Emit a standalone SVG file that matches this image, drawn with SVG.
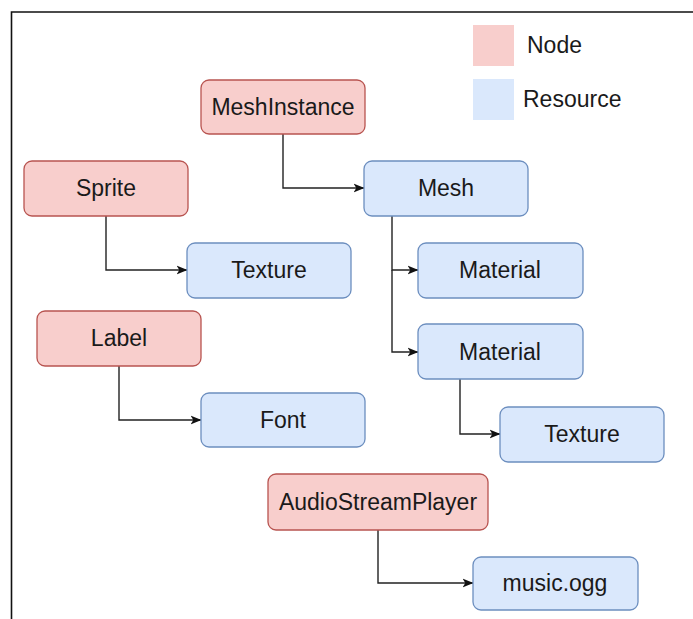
<svg xmlns="http://www.w3.org/2000/svg" width="693" height="619" viewBox="0 0 693 619">
  <style>
    .node rect { fill: #f8cecc; stroke: #b85450; stroke-width: 1.3; }
    .res rect { fill: #dae8fc; stroke: #6c8ebf; stroke-width: 1.3; }
    text { font-family: "Liberation Sans", Arial, sans-serif; font-size: 23px; fill: #1a1a1a; }
    .c { text-anchor: middle; }
    .edge { fill: none; stroke: #222; stroke-width: 1.4; }
  </style>
  <defs>
    <marker id="arrow" viewBox="0 0 11 10" refX="10.5" refY="5" markerWidth="11" markerHeight="10" markerUnits="userSpaceOnUse" orient="auto">
      <path d="M0,0.5 L11,5 L0,9.5 L2.8,5 Z" fill="#111"/>
    </marker>
  </defs>
  <rect width="693" height="619" fill="#fff"/>
  <!-- frame -->
  <path d="M11.5,619 V12 H693" fill="none" stroke="#111" stroke-width="1.6"/>

  <!-- legend -->
  <g id="legend">
    <rect x="473" y="25" width="41" height="41" fill="#f8cecc"/>
    <text x="527" y="53">Node</text>
    <rect x="473" y="79" width="41" height="41" fill="#dae8fc"/>
    <text x="523" y="107">Resource</text>
  </g>

  <!-- connectors -->
  <g id="connectors">
    <path class="edge" marker-end="url(#arrow)" d="M283,134 V188 H364"/>
    <path class="edge" marker-end="url(#arrow)" d="M106,216 V270 H187"/>
    <path class="edge" marker-end="url(#arrow)" d="M392,216 V270 H418"/>
    <path class="edge" marker-end="url(#arrow)" d="M392,270 V352 H418"/>
    <path class="edge" marker-end="url(#arrow)" d="M460,379 V434 H500"/>
    <path class="edge" marker-end="url(#arrow)" d="M119,366 V420 H201"/>
    <path class="edge" marker-end="url(#arrow)" d="M378,530 V583 H473"/>
  </g>

  <g id="meshinstance" class="node">
    <rect x="201" y="80" width="164" height="54" rx="8"/>
    <text class="c" x="283" y="115">MeshInstance</text>
  </g>
  <g id="sprite" class="node">
    <rect x="24" y="161" width="164" height="55" rx="8"/>
    <text class="c" x="106" y="196">Sprite</text>
  </g>
  <g id="label" class="node">
    <rect x="37" y="311" width="164" height="55" rx="8"/>
    <text class="c" x="119" y="346">Label</text>
  </g>
  <g id="audiostreamplayer" class="node">
    <rect x="268" y="474" width="220" height="56" rx="8"/>
    <text class="c" x="378" y="510">AudioStreamPlayer</text>
  </g>

  <g id="mesh" class="res">
    <rect x="364" y="161" width="164" height="55" rx="8"/>
    <text class="c" x="446" y="196">Mesh</text>
  </g>
  <g id="texture1" class="res">
    <rect x="187" y="243" width="164" height="55" rx="8"/>
    <text class="c" x="269" y="278">Texture</text>
  </g>
  <g id="material1" class="res">
    <rect x="418" y="243" width="165" height="55" rx="8"/>
    <text class="c" x="500" y="278">Material</text>
  </g>
  <g id="material2" class="res">
    <rect x="418" y="324" width="165" height="55" rx="8"/>
    <text class="c" x="500" y="360">Material</text>
  </g>
  <g id="font" class="res">
    <rect x="201" y="393" width="164" height="54" rx="8"/>
    <text class="c" x="283" y="428">Font</text>
  </g>
  <g id="texture2" class="res">
    <rect x="500" y="407" width="164" height="55" rx="8"/>
    <text class="c" x="582" y="442">Texture</text>
  </g>
  <g id="musicogg" class="res">
    <rect x="473" y="557" width="165" height="53" rx="8"/>
    <text class="c" x="555" y="591">music.ogg</text>
  </g>
</svg>
